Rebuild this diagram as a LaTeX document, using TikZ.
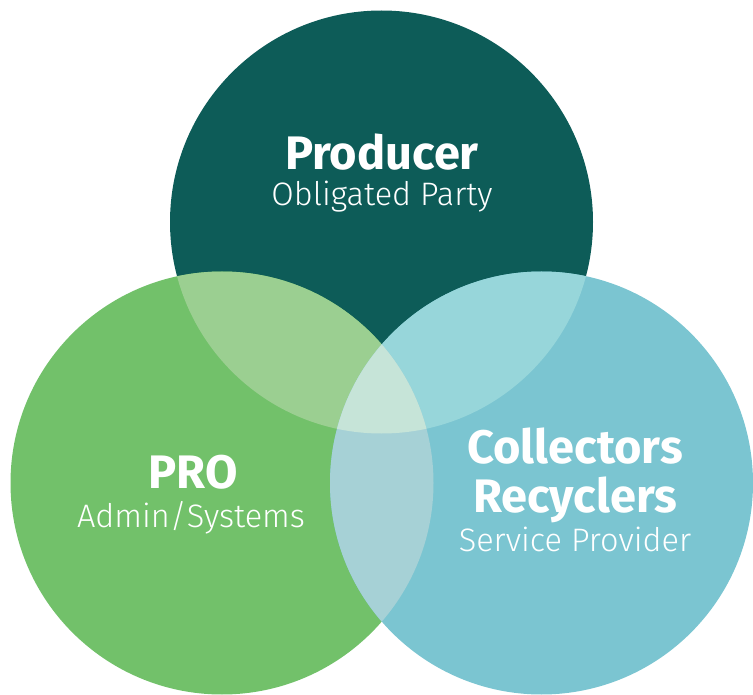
\documentclass[tikz,border=0pt]{standalone}
\usepackage{fontspec}
\setmainfont{Fira Sans}
\newfontfamily\lightfont{Fira Sans Light}
\definecolor{topc}{HTML}{0D5C58}
\definecolor{leftc}{HTML}{72C16A}
\definecolor{rightc}{HTML}{7BC5D1}
\definecolor{tlc}{HTML}{9BCF91}
\definecolor{trc}{HTML}{97D6DA}
\definecolor{lrc}{HTML}{A6D1D6}
\definecolor{midc}{HTML}{C6E4D8}
\tikzset{
  headtxt/.style={text=white, anchor=base, inner sep=0pt, font=\fontsize{47}{52}\selectfont\bfseries},
  subtxt/.style={text=white, anchor=base, inner sep=0pt, font=\fontsize{32.5}{38}\selectfont\lightfont},
}
\begin{document}
\begin{tikzpicture}[x=1pt,y=-1pt]
\useasboundingbox (0,0) rectangle (753,695);
\coordinate (T) at (381.5,222);
\coordinate (L) at (222,483);
\coordinate (R) at (541.5,483);
\fill[topc] (T) circle[radius=211.5pt];
\fill[leftc] (L) circle[radius=211.5pt];
\fill[rightc] (R) circle[radius=211.5pt];
\begin{scope}
  \clip (T) circle[radius=211.5pt];
  \fill[tlc] (L) circle[radius=211.5pt];
  \fill[trc] (R) circle[radius=211.5pt];
\end{scope}
\begin{scope}
  \clip (L) circle[radius=211.5pt];
  \fill[lrc] (R) circle[radius=211.5pt];
\end{scope}
\begin{scope}
  \clip (T) circle[radius=211.5pt];
  \clip (L) circle[radius=211.5pt];
  \fill[midc] (R) circle[radius=211.5pt];
\end{scope}
\node[headtxt] (prod) at (382,170) {Producer};
\node[subtxt] (obl) at (382,206) {Obligated Party};
\node[headtxt] (pro) at (193,488) {PRO};
\node[subtxt] (adm) at (191,527) {Admin/Systems};
\node[headtxt] (col) at (575,463) {Collectors};
\node[headtxt] (rec) at (575,512) {Recyclers};
\node[subtxt] (svc) at (575,551) {Service Provider};
\end{tikzpicture}
\end{document}
